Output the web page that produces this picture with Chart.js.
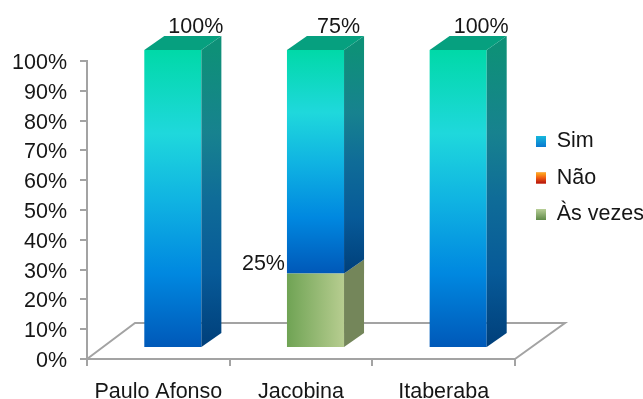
<!DOCTYPE html>
<html><head><meta charset="utf-8">
<style>html,body{margin:0;padding:0;background:#fff}canvas{display:block}</style>
<script src="https://cdn.jsdelivr.net/npm/chart.js@4"></script></head>
<body><canvas id="c" width="643" height="399"></canvas>
<script>
const categories = ['Paulo Afonso', 'Jacobina', 'Itaberaba'];
const sim = [100, 75, 100];
const nao = [0, 0, 0];
const asVezes = [0, 25, 0];
const yTicks = [0, 10, 20, 30, 40, 50, 60, 70, 80, 90, 100];

const FONT = 'Liberation Sans', TXT = '#161616', AXIS = '#a3a3a3', FS = 21.5;
const SHIFT_X = 14.5, SHIFT_Y = -11, DEPTH_X = 20, DEPTH_Y = -14;
const FLOOR_X = 48, FLOOR_Y = -36, FLOOR_XR = 50;
const BAR_PCT = 0.4;
const simStops = [[0,'#00d9a8'],[0.28,'#1fd8dc'],[0.5,'#10b4e2'],[0.75,'#0088e0'],[1,'#0058b8']];
const simSide = [[0,'#0e9078'],[0.28,'#17828f'],[0.5,'#0f6c98'],[0.75,'#075a98'],[1,'#003f7a']];

function vGrad(ctx, y0, y1, stops){
  const g = ctx.createLinearGradient(0, y0, 0, y1);
  stops.forEach(s => g.addColorStop(s[0], s[1]));
  return g;
}
const simFill = c => {
  const ch = c.chart, s = ch.scales.y, i = c.dataIndex;
  if (!s || i === undefined) return '#10b4e2';
  const y0 = s.getPixelForValue(asVezes[i] + sim[i]), y1 = s.getPixelForValue(asVezes[i]);
  if (!isFinite(y0) || !isFinite(y1)) return '#10b4e2';
  return vGrad(ch.ctx, y0, y1, simStops);
};
const greenFill = c => {
  const ch = c.chart, s = ch.scales.x, i = c.dataIndex;
  if (!s || i === undefined) return '#8fb56c';
  const x = s.getPixelForValue(i), w = s.width / categories.length * BAR_PCT;
  if (!isFinite(x) || !isFinite(w)) return '#8fb56c';
  const g = ch.ctx.createLinearGradient(x - w/2, 0, x + w/2, 0);
  g.addColorStop(0, '#6fa354'); g.addColorStop(1, '#b7cd90');
  return g;
};

const faces = {
  id: 'faces',
  beforeDatasetsDraw(ch){
    const {ctx, chartArea: a} = ch;
    ctx.save();
    ctx.strokeStyle = AXIS; ctx.lineWidth = 2;
    ctx.beginPath();
    ctx.moveTo(a.left, a.bottom); ctx.lineTo(a.left + FLOOR_X, a.bottom + FLOOR_Y);
    ctx.lineTo(a.right + FLOOR_XR, a.bottom + FLOOR_Y); ctx.lineTo(a.right, a.bottom);
    ctx.stroke();
    ctx.restore();
    ctx.save();
    ctx.translate(SHIFT_X, SHIFT_Y);
  },
  afterDatasetsDraw(ch){
    const ctx = ch.ctx, ds = ch.data.datasets;
    ds.forEach((d, di) => {
      ch.getDatasetMeta(di).data.forEach((el, i) => {
        if (!d.data[i]) return;
        const r = el.x + el.width/2, l = el.x - el.width/2, t = el.y, b = el.base;
        const isSim = d.label === 'Sim';
        ctx.fillStyle = isSim ? vGrad(ctx, t, b, simSide) : '#74865a';
        ctx.beginPath();
        ctx.moveTo(r, t); ctx.lineTo(r + DEPTH_X, t + DEPTH_Y);
        ctx.lineTo(r + DEPTH_X, b + DEPTH_Y); ctx.lineTo(r, b);
        ctx.closePath(); ctx.fill();
        if (isSim) {
          ctx.fillStyle = '#06a07f';
          ctx.beginPath();
          ctx.moveTo(l, t); ctx.lineTo(l + DEPTH_X, t + DEPTH_Y);
          ctx.lineTo(r + DEPTH_X, t + DEPTH_Y); ctx.lineTo(r, t);
          ctx.closePath(); ctx.fill();
        }
      });
    });
    ctx.restore();
    ctx.fillStyle = TXT; ctx.font = FS + 'px "' + FONT + '"'; ctx.textBaseline = 'middle';
    ds.forEach((d, di) => {
      ch.getDatasetMeta(di).data.forEach((el, i) => {
        if (!d.data[i]) return;
        const txt = d.data[i] + '%';
        if (d.label === 'Sim') {
          ctx.textAlign = 'center';
          ctx.fillText(txt, el.x + SHIFT_X + DEPTH_X + 3, el.y + SHIFT_Y + DEPTH_Y - 9);
        } else {
          ctx.textAlign = 'right';
          ctx.fillText(txt, el.x + SHIFT_X - el.width/2 - 2, el.y + SHIFT_Y - 9);
        }
      });
    });
  }
};

const LEG_DX = 6, LEG_DY = -52;
const legendSwatches = {
  id: 'legendSwatches',
  afterLayout(ch){
    const l = ch.legend;
    l.left += LEG_DX; l.right += LEG_DX; l.top += LEG_DY; l.bottom += LEG_DY;
  },
  afterDraw(ch){
    const ctx = ch.ctx, l = ch.legend;
    const byLabel = {
      'Sim': [[0,'#16b8dc'],[1,'#0a78d0']],
      'Não': [[0,'#ffb020'],[0.5,'#f05a10'],[1,'#b01010']],
      'Às vezes': [[0,'#b8cf98'],[1,'#5f8a48']]
    };
    l.legendItems.forEach((it, i) => {
      const h = l.legendHitBoxes[i];
      const x = h.left, y = h.top + (h.height - 11)/2;
      ctx.fillStyle = vGrad(ctx, y, y + 11, byLabel[it.text]);
      ctx.fillRect(x, y, 10, 11);
    });
  }
};

new Chart(document.getElementById('c'), {
  type: 'bar',
  data: {
    labels: categories,
    datasets: [
      {label: 'Às vezes', data: asVezes, backgroundColor: greenFill, clip: false},
      {label: 'Não', data: nao, backgroundColor: '#f05a10', clip: false},
      {label: 'Sim', data: sim, backgroundColor: simFill, clip: false}
    ]
  },
  options: {
    responsive: false, animation: false,
    layout: {padding: {top: 61}},
    font: {family: FONT},
    datasets: {bar: {barPercentage: BAR_PCT, categoryPercentage: 1, borderWidth: 0}},
    scales: {
      x: {
        stacked: true,
        afterFit(s){ s.height = 40; },
        border: {color: AXIS, width: 2},
        grid: {drawOnChartArea: false, color: AXIS, lineWidth: 2, tickLength: 7},
        ticks: {color: TXT, padding: 15, font: {family: FONT, size: FS, lineHeight: 1}, maxRotation: 0, autoSkip: false}
      },
      y: {
        stacked: true, min: yTicks[0], max: yTicks[yTicks.length - 1],
        afterBuildTicks(s){ s.ticks = yTicks.map(v => ({value: v})); },
        afterFit(s){ s.width = 87; },
        border: {color: AXIS, width: 2},
        grid: {drawOnChartArea: false, color: AXIS, lineWidth: 2, tickLength: 7},
        ticks: {color: TXT, padding: 13, labelOffset: 2, font: {family: FONT, size: FS}, callback: v => v + '%'}
      }
    },
    plugins: {
      tooltip: {enabled: false},
      legend: {
        position: 'right', reverse: true, maxWidth: 128,
        labels: {boxWidth: 10, boxHeight: 11, padding: 15, color: TXT, font: {family: FONT, size: FS}}
      }
    }
  },
  plugins: [faces, legendSwatches]
});
</script></body></html>
